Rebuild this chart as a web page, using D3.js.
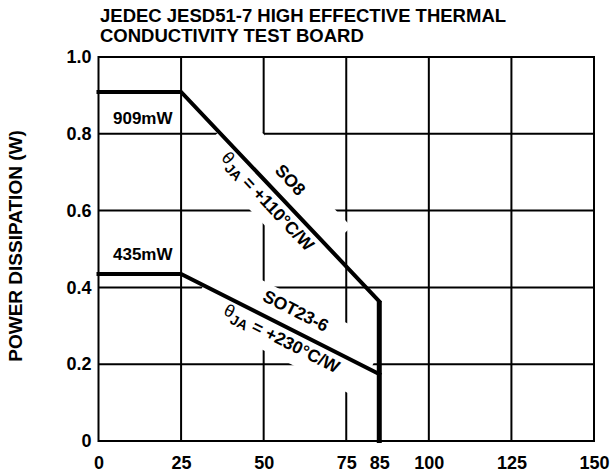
<!DOCTYPE html>
<html>
<head>
<meta charset="utf-8">
<script src="https://cdn.jsdelivr.net/npm/d3@7"></script>
<style>
  body { margin: 0; background: #fff; }
  text { font-family: "Liberation Sans", Arial, sans-serif; font-weight: bold; fill: #000; }
</style>
</head>
<body>
<svg id="chart"></svg>
<script>
// values
var tempC = [0, 25, 85]
var so8W = [0.909, 0.909, 0.3636]
var sot23W = [0.435, 0.435, 0.174]
var cutoffC = 85

var xTicks = [0, 25, 50, 75, 85, 100, 125, 150]
var yTicks = [0, 0.2, 0.4, 0.6, 0.8, 1.0]
var xGrid = [25, 50, 75, 100, 125]
var yGrid = [0.2, 0.4, 0.6, 0.8]

var titleLines = ["JEDEC JESD51-7 HIGH EFFECTIVE THERMAL", "CONDUCTIVITY TEST BOARD"]

var width = 611, height = 472

var x = d3.scaleLinear().domain([0, 150]).range([98.5, 594])
var y = d3.scaleLinear().domain([0, 1]).range([441, 57])

var svg = d3.select("#chart")
    .attr("width", width)
    .attr("height", height)

// title
svg.append("text")
    .attr("x", 100)
    .attr("y", 22)
    .style("font-size", "18.5px")
    .selectAll("tspan")
    .data(titleLines)
    .enter()
    .append("tspan")
    .attr("x", 100)
    .attr("dy", function(d, i) { return i == 0 ? 0 : 20 })
    .text(function(d) { return d })

// grid
var grid = svg.append("g").attr("id", "grid")
grid.selectAll(".vgrid")
    .data(xGrid)
    .enter()
    .append("line")
    .attr("x1", function(d) { return x(d) })
    .attr("x2", function(d) { return x(d) })
    .attr("y1", y(0))
    .attr("y2", y(1))
    .style("stroke", "#000")
    .style("stroke-width", 2)
grid.selectAll(".hgrid")
    .data(yGrid)
    .enter()
    .append("line")
    .attr("x1", x(0))
    .attr("x2", x(150))
    .attr("y1", function(d) { return y(d) })
    .attr("y2", function(d) { return y(d) })
    .style("stroke", "#000")
    .style("stroke-width", 2)

// border
svg.append("rect")
    .attr("x", x(0))
    .attr("y", y(1))
    .attr("width", x(150) - x(0))
    .attr("height", y(0) - y(1))
    .style("fill", "none")
    .style("stroke", "#000")
    .style("stroke-width", 2)

// axes (labels only)
var xAxis = svg.append("g")
    .attr("transform", `translate(0,${y(0)})`)
    .call(d3.axisBottom(x).tickValues(xTicks).tickSize(0).tickPadding(15))
var yAxis = svg.append("g")
    .attr("transform", `translate(${x(0)},0)`)
    .call(d3.axisLeft(y).tickValues(yTicks).tickSize(0).tickPadding(7)
        .tickFormat(function(d) { return d == 0 ? "0" : d.toFixed(1) }))
xAxis.select(".domain").remove()
yAxis.select(".domain").remove()
svg.selectAll(".tick text")
    .style("font-size", "18px")
    .style("font-family", "'Liberation Sans', Arial, sans-serif")
    .style("font-weight", "bold")
    .attr("fill", "#000")

svg.append("text")
    .attr("transform", `translate(22,246) rotate(-90)`)
    .attr("text-anchor", "middle")
    .style("font-size", "19px")
    .text("POWER DISSIPATION (W)")

/* geometry helpers along a sloped segment */
function segment(vals) {
    let p0 = [x(tempC[1]), y(vals[1])]
    let p1 = [x(tempC[2]), y(vals[2])]
    let len = Math.hypot(p1[0] - p0[0], p1[1] - p0[1])
    let u = [(p1[0] - p0[0]) / len, (p1[1] - p0[1]) / len]
    let n = [-u[1], u[0]]
    return {p0: p0, len: len, u: u, n: n, angle: Math.atan2(u[1], u[0]) * 180 / Math.PI}
}
function at(s, along, perp) {
    return [s.p0[0] + s.u[0] * along + s.n[0] * perp, s.p0[1] + s.u[1] * along + s.n[1] * perp]
}
function maskBand(s, a0, a1, half) {
    let pts = [at(s, a0, -half), at(s, a1, -half), at(s, a1, half), at(s, a0, half)]
    svg.append("polygon")
        .attr("points", pts.map(function(p) { return p.join(",") }).join(" "))
        .style("fill", "#fff")
}

var so8Seg = segment(so8W)
var sotSeg = segment(sot23W)

// white areas behind the slope labels
maskBand(so8Seg, 55, 215, 31)
maskBand(sotSeg, 25, 212, 31)

// curves
var line = d3.line()
    .x(function(d) { return x(d[0]) })
    .y(function(d) { return y(d[1]) })

svg.append("path")
    .attr("d", line(d3.zip(tempC, so8W)))
    .style("fill", "none")
    .style("stroke", "#000")
    .style("stroke-width", 4)
    .style("stroke-linecap", "square")
svg.append("path")
    .attr("d", line(d3.zip(tempC, sot23W)))
    .style("fill", "none")
    .style("stroke", "#000")
    .style("stroke-width", 4)
    .style("stroke-linecap", "square")
svg.append("line")
    .attr("x1", x(cutoffC))
    .attr("x2", x(cutoffC))
    .attr("y1", y(so8W[2]))
    .attr("y2", y(0) + 2)
    .style("stroke", "#000")
    .style("stroke-width", 5)

// flat-part labels
svg.append("text")
    .attr("x", 113)
    .attr("y", y(so8W[0]) + 32)
    .style("font-size", "17px")
    .text(Math.round(so8W[0] * 1000) + "mW")
svg.append("text")
    .attr("x", 113)
    .attr("y", y(sot23W[0]) - 14)
    .style("font-size", "17px")
    .text(Math.round(sot23W[0] * 1000) + "mW")

// slope labels
function slopeLabel(s, along, perp, name, theta) {
    let p = at(s, along, perp - 1)
    svg.append("text")
        .attr("transform", `translate(${p[0]},${p[1]}) rotate(${s.angle})`)
        .attr("text-anchor", "middle")
        .attr("dy", "0.35em")
        .style("font-size", "17.5px")
        .text(name)

    let q = at(s, along, -perp + 1)
    let t = svg.append("text")
        .attr("transform", `translate(${q[0]},${q[1]}) rotate(${s.angle})`)
        .attr("text-anchor", "middle")
        .attr("dy", "0.35em")
        .style("font-size", "17.5px")
    t.append("tspan").style("font-weight", "normal").attr("dy", "-2").text("θ")
    t.append("tspan").style("font-size", "14px").attr("dy", "5").text("JA")
    t.append("tspan").attr("dy", "-3").text(` = +${theta}°C/W`)
}
slopeLabel(so8Seg, 139, -18, "SO8", 110)
slopeLabel(sotSeg, 119, -18, "SOT23-6", 230)
</script>
</body>
</html>
